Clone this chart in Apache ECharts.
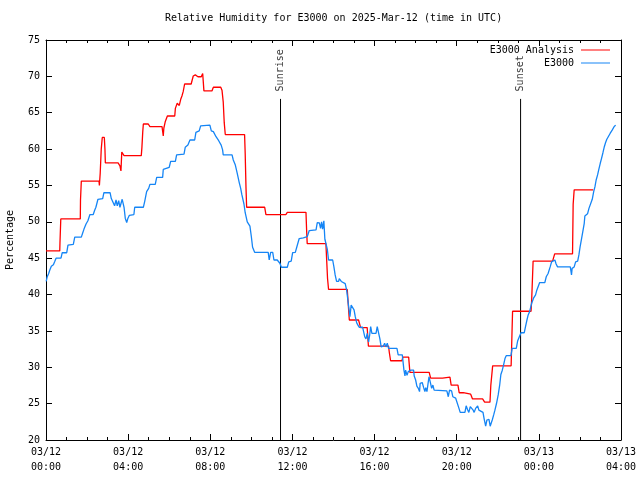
<!DOCTYPE html>
<html><head><meta charset="utf-8">
<script src="https://cdn.jsdelivr.net/npm/echarts@6/dist/echarts.min.js"></script>
<style>html,body{margin:0;padding:0;background:#fff}#c{width:640px;height:480px}</style>
</head><body><div id="c"></div>
<script>
const chartTitle = 'Relative Humidity for E3000 on 2025-Mar-12 (time in UTC)';
const xTickLabels = ['03/12\n00:00','03/12\n04:00','03/12\n08:00','03/12\n12:00','03/12\n16:00','03/12\n20:00','03/13\n00:00','03/13\n04:00'];
const seriesNames = ['E3000 Analysis','E3000'];
const yAxisName = 'Percentage';
// hours since 03/12 00:00 UTC, relative humidity %
const analysis = [[0,46.0],[0.67,46.0],[0.68,47.1],[0.72,50.4],[1.67,50.4],[1.68,53.0],[1.72,55.6],[2.58,55.6],[2.60,55.0],[2.64,56.7],[2.69,60.0],[2.74,61.6],[2.84,61.6],[2.87,60.0],[2.89,58.1],[3.51,58.1],[3.60,57.7],[3.65,57.0],[3.69,59.6],[3.80,59.1],[4.64,59.1],[4.67,60.2],[4.71,62.3],[4.74,63.45],[4.98,63.45],[5.06,63.1],[5.65,63.1],[5.71,61.8],[5.74,62.9],[5.81,63.8],[5.91,64.55],[6.27,64.55],[6.30,65.6],[6.39,66.3],[6.49,66.0],[6.56,66.85],[6.62,67.3],[6.68,67.9],[6.75,68.95],[7.07,68.95],[7.11,69.4],[7.17,70.05],[7.27,70.2],[7.40,69.95],[7.56,69.95],[7.63,70.4],[7.69,68.0],[8.08,68.0],[8.15,68.5],[8.51,68.5],[8.57,68.1],[8.63,66.5],[8.68,63.6],[8.73,62.0],[9.67,62.0],[9.70,59.4],[9.74,54.6],[9.77,52.0],[10.65,52.0],[10.71,51.0],[11.68,51.0],[11.75,51.3],[12.66,51.3],[12.69,48.9],[12.72,47.0],[13.63,47.0],[13.66,45.2],[13.71,42.2],[13.76,40.7],[14.67,40.7],[14.72,38.6],[14.77,36.5],[15.22,36.5],[15.32,35.45],[15.64,35.45],[15.70,32.9],[16.68,32.9],[16.72,32.0],[16.78,30.9],[17.33,30.9],[17.38,31.4],[17.66,31.4],[17.72,29.3],[18.66,29.3],[18.73,28.5],[19.31,28.5],[19.38,28.65],[19.67,28.65],[19.73,27.55],[20.06,27.55],[20.12,26.5],[20.32,26.5],[20.37,26.3],[20.68,26.3],[20.77,25.65],[21.26,25.65],[21.36,25.2],[21.62,25.2],[21.66,27.5],[21.75,30.2],[22.65,30.2],[22.69,34.5],[22.72,37.7],[23.62,37.7],[23.65,39.25],[23.72,44.6],[24.67,44.6],[24.77,45.6],[25.64,45.6],[25.67,52.4],[25.72,54.4],[26.65,54.4]];
const e3000 = [[0.01,41.8],[0.06,42.45],[0.13,42.9],[0.19,43.4],[0.26,43.9],[0.36,44.1],[0.42,44.5],[0.49,45.0],[0.73,45.0],[0.79,45.75],[1.01,45.75],[1.07,46.8],[1.33,46.9],[1.40,47.9],[1.72,47.9],[1.79,48.5],[1.85,49.0],[1.95,49.7],[2.04,50.15],[2.14,51.0],[2.30,51.0],[2.37,51.6],[2.43,52.0],[2.53,53.1],[2.76,53.2],[2.82,54.0],[3.12,54.0],[3.18,53.2],[3.25,53.1],[3.34,52.2],[3.41,53.0],[3.47,52.2],[3.54,52.9],[3.60,52.0],[3.65,52.0],[3.71,53.1],[3.80,52.0],[3.86,50.5],[3.93,49.9],[3.99,50.5],[4.06,50.9],[4.28,51.0],[4.32,52.0],[4.74,52.0],[4.81,52.85],[4.90,54.15],[5.00,54.6],[5.06,55.15],[5.32,55.15],[5.39,56.1],[5.68,56.1],[5.71,57.2],[6.00,57.5],[6.07,58.3],[6.30,58.3],[6.36,59.2],[6.72,59.3],[6.78,60.25],[6.91,60.55],[7.01,61.25],[7.24,61.25],[7.30,62.3],[7.46,62.5],[7.53,63.2],[7.98,63.3],[8.05,62.5],[8.15,62.4],[8.28,61.7],[8.41,61.15],[8.53,60.55],[8.60,59.9],[8.63,59.2],[9.06,59.2],[9.12,58.5],[9.22,57.8],[9.31,56.7],[9.41,55.4],[9.48,54.6],[9.54,53.7],[9.64,52.45],[9.70,51.25],[9.80,50.0],[9.93,49.4],[10.00,47.95],[10.06,46.5],[10.16,45.8],[10.82,45.8],[10.87,44.75],[10.94,45.8],[11.04,45.8],[11.10,44.75],[11.26,44.75],[11.39,44.3],[11.46,43.75],[11.75,43.75],[11.82,44.5],[11.94,44.6],[12.01,45.75],[12.14,45.8],[12.21,46.5],[12.33,47.7],[12.53,47.8],[12.72,47.95],[12.82,48.8],[13.15,48.9],[13.21,49.9],[13.31,49.85],[13.37,49.1],[13.42,50.0],[13.47,49.0],[13.53,50.15],[13.58,47.6],[13.63,47.05],[13.70,46.2],[13.76,44.75],[13.96,44.75],[14.02,43.8],[14.08,42.7],[14.15,41.8],[14.25,41.8],[14.28,42.2],[14.38,41.8],[14.47,42.0],[14.57,41.5],[14.64,40.6],[14.70,39.25],[14.74,38.3],[14.80,36.95],[14.86,38.55],[14.93,38.55],[15.00,37.9],[15.06,36.95],[15.13,36.1],[15.19,35.8],[15.25,35.5],[15.32,35.3],[15.42,35.5],[15.52,34.2],[15.58,33.9],[15.64,34.65],[15.71,33.5],[15.76,34.4],[15.81,35.6],[15.87,34.65],[16.07,34.65],[16.13,35.6],[16.20,34.65],[16.26,33.9],[16.32,32.8],[16.42,32.9],[16.49,33.3],[16.55,32.8],[16.62,33.3],[16.68,32.6],[17.09,32.6],[17.15,31.7],[17.35,31.7],[17.43,29.6],[17.48,28.8],[17.51,29.6],[17.58,28.9],[17.64,29.4],[17.77,29.6],[17.90,29.6],[17.93,28.8],[18.00,28.25],[18.06,27.4],[18.13,27.1],[18.19,26.65],[18.22,27.8],[18.32,27.9],[18.39,27.2],[18.45,26.65],[18.49,27.2],[18.55,26.65],[18.65,28.7],[18.71,28.0],[18.78,27.1],[18.84,27.55],[18.90,26.85],[18.97,26.75],[19.52,26.75],[19.59,25.95],[19.65,26.85],[19.75,26.75],[19.81,25.95],[19.95,25.75],[20.04,25.5],[20.11,24.35],[20.17,23.8],[20.40,23.8],[20.46,24.7],[20.53,24.15],[20.59,23.8],[20.66,24.6],[20.73,24.8],[20.79,24.15],[20.85,23.8],[20.92,24.35],[21.02,24.7],[21.08,24.1],[21.14,23.85],[21.28,23.8],[21.34,22.85],[21.41,21.9],[21.47,22.75],[21.57,22.85],[21.63,21.9],[21.73,22.75],[21.80,23.45],[21.86,24.1],[21.94,25.05],[22.02,26.2],[22.09,27.5],[22.15,29.0],[22.22,29.6],[22.28,30.3],[22.35,31.2],[22.41,31.6],[22.64,31.6],[22.70,32.6],[22.90,32.6],[22.97,33.65],[23.06,33.7],[23.13,34.75],[23.29,34.75],[23.35,35.6],[23.42,36.5],[23.48,37.2],[23.55,37.65],[23.65,38.8],[23.74,39.5],[23.84,39.95],[23.90,40.6],[24.04,41.65],[24.29,41.65],[24.36,42.45],[24.45,42.9],[24.55,43.8],[24.62,44.5],[24.68,44.75],[24.78,44.75],[24.84,44.2],[24.91,43.8],[25.53,43.8],[25.56,43.3],[25.59,42.7],[25.62,43.6],[25.72,43.8],[25.79,44.5],[25.89,44.6],[25.95,45.45],[26.01,46.6],[26.08,47.7],[26.14,48.65],[26.21,49.8],[26.24,50.8],[26.37,51.1],[26.44,51.85],[26.53,51.9],[26.60,53.1],[26.67,54.15],[26.73,54.8],[26.79,55.75],[26.86,56.45],[26.92,57.2],[26.99,58.05],[27.05,58.7],[27.12,59.5],[27.18,60.25],[27.25,60.9],[27.31,61.35],[27.38,61.7],[27.47,62.15],[27.57,62.6],[27.67,63.1],[27.74,63.3]];
const sunEventNames = ['Sunrise','Sunset'];
const sunEventHours = [11.42, 23.11];
const sunLineTop = 66.9;

const FONT = 'DejaVu Sans Mono';
const txt = {fontFamily: FONT, fontSize: 10, color: '#000'};
const chart = echarts.init(document.getElementById('c'), null, {renderer: 'canvas'});

function xAxisDef(pos) {
  return {
    type: 'value', min: 0, max: 28, interval: 4, position: pos,
    axisLine: {show: true, onZero: false, lineStyle: {color: '#000', width: 1}},
    axisTick: {show: true, inside: true, length: 6, lineStyle: {color: '#000'}},
    minorTick: {show: true, splitNumber: 4, length: 3, lineStyle: {color: '#000'}},
    splitLine: {show: false}, minorSplitLine: {show: false},
    axisLabel: pos === 'bottom' ? Object.assign({
      formatter: v => xTickLabels[Math.round(v / 4)], lineHeight: 15, margin: 5,
      showMinLabel: true, showMaxLabel: true, hideOverlap: false
    }, txt) : {show: false}
  };
}
function yAxisDef(pos) {
  const a = {
    type: 'value', min: 20, max: 75, interval: 5, position: pos,
    axisLine: {show: true, onZero: false, lineStyle: {color: '#000', width: 1}},
    axisTick: {show: true, inside: true, length: 6, lineStyle: {color: '#000'}},
    splitLine: {show: false},
    axisLabel: pos === 'left' ? Object.assign({margin: 6}, txt) : {show: false}
  };
  if (pos === 'left') {
    a.name = yAxisName; a.nameLocation = 'middle'; a.nameGap = 31;
    a.nameTextStyle = Object.assign({}, txt);
  }
  return a;
}

const series = [
  {name: seriesNames[0], type: 'line', data: analysis, showSymbol: false, symbol: 'none',
   lineStyle: {color: '#ff0000', width: 1.3}, itemStyle: {color: '#ff0000'}, z: 3, silent: true},
  {name: seriesNames[1], type: 'line', data: e3000, showSymbol: false, symbol: 'none',
   lineStyle: {color: '#1585f5', width: 1.3}, itemStyle: {color: '#1585f5'}, z: 4, silent: true}
];
sunEventHours.forEach((h, i) => {
  series.push({type: 'line', data: [[h, 20], [h, sunLineTop]], showSymbol: false, symbol: 'none',
    lineStyle: {color: '#000', width: 1}, z: 2, silent: true});
});
series.push({type: 'scatter', silent: true, z: 5, symbolSize: 1,
  itemStyle: {color: 'rgba(0,0,0,0)'},
  data: sunEventHours.map((h, i) => ({value: [h, sunLineTop], label: {formatter: sunEventNames[i]}})),
  label: Object.assign({show: true, position: 'top', distance: 7, rotate: 90, align: 'left', verticalAlign: 'middle'}, txt)
});

chart.setOption({
  animation: false,
  backgroundColor: '#fff',
  title: {text: chartTitle, left: 165, top: 13, padding: 0,
    textStyle: Object.assign({fontWeight: 'normal'}, txt)},
  legend: {data: seriesNames, orient: 'vertical', align: 'right', right: 30, top: 44, padding: 0,
    itemGap: 1, itemWidth: 29, itemHeight: 1, icon: 'rect',
    textStyle: Object.assign({lineHeight: 12, padding: [0, 2, 0, 0]}, txt)},
  grid: {left: 46, right: 19, top: 40, bottom: 40, containLabel: false, outerBoundsMode: 'none'},
  xAxis: [xAxisDef('bottom'), xAxisDef('top')],
  yAxis: [yAxisDef('left'), yAxisDef('right')],
  series: series
});
</script></body></html>
